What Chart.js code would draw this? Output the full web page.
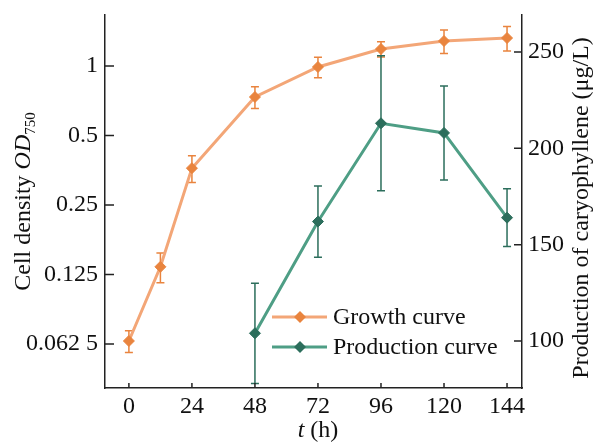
<!DOCTYPE html>
<html>
<head>
<meta charset="utf-8">
<script src="https://cdn.jsdelivr.net/npm/chart.js@4.4.1/dist/chart.umd.min.js"></script>
<style>
  body { margin: 0; background: #fff; }
  canvas { display: block; }
</style>
</head>
<body>
<canvas id="growthChart" width="602" height="442"></canvas>
<script>
// 読み取ったデータ
const times = [0, 12, 24, 48, 72, 96, 120, 144];
const growth = [0.0644, 0.135, 0.361, 0.734, 0.99, 1.185, 1.283, 1.322];
const growthErr = [0.007, 0.02, 0.048, 0.08, 0.10, 0.09, 0.15, 0.16];

const prodTimes = [48, 72, 96, 120, 144];
const production = [104, 162, 213, 208, 164];
const prodErr = [26, 18.5, 35, 24.4, 15];

const xTicks = [0, 24, 48, 72, 96, 120, 144];
const odTicks = [0.0625, 0.125, 0.25, 0.5, 1];
const odTickLabels = ['0.062 5', '0.125', '0.25', '0.5', '1'];
const prodTicks = [100, 150, 200, 250];

const SERIF = "'Liberation Serif', 'Times New Roman', serif";
const FS = 24;
const ORANGE_LINE = '#F3A677';
const ORANGE_MARK = '#E9843E';
const TEAL_LINE = '#4E9E85';
const TEAL_MARK = '#2C6E5C';
const AXIS = '#222';

// エラーバー
const errorBars = {
  id: 'errorBars',
  beforeDatasetsDraw(chart) {
    const ctx = chart.ctx;
    chart.data.datasets.forEach(ds => {
      const xs = chart.scales.x;
      const ys = chart.scales[ds.yAxisID];
      ctx.save();
      ctx.strokeStyle = ds.errColor;
      ctx.lineWidth = 1.5;
      ds.data.forEach((p, j) => {
        const e = ds.err[j];
        const px = xs.getPixelForValue(p.x);
        const top = ys.getPixelForValue(p.y + e);
        const bot = ys.getPixelForValue(p.y - e);
        ctx.beginPath();
        ctx.moveTo(px, top); ctx.lineTo(px, bot);
        ctx.moveTo(px - 4, top); ctx.lineTo(px + 4, top);
        ctx.moveTo(px - 4, bot); ctx.lineTo(px + 4, bot);
        ctx.stroke();
      });
      ctx.restore();
    });
  }
};

// 内向きの目盛り、軸タイトル、凡例
const decorations = {
  id: 'decorations',
  afterDraw(chart) {
    const ctx = chart.ctx;
    const a = chart.chartArea;
    const xs = chart.scales.x, yl = chart.scales.yOD, yr = chart.scales.yProd;
    ctx.save();
    ctx.strokeStyle = AXIS;
    ctx.lineWidth = 1.5;
    ctx.beginPath();
    odTicks.forEach(v => { const y = yl.getPixelForValue(v); ctx.moveTo(a.left, y); ctx.lineTo(a.left + 9, y); });
    prodTicks.forEach(v => { const y = yr.getPixelForValue(v); ctx.moveTo(a.right, y); ctx.lineTo(a.right - 8, y); });
    xTicks.forEach(v => { const x = xs.getPixelForValue(v); ctx.moveTo(x, a.bottom); ctx.lineTo(x, a.bottom - 5); });
    ctx.stroke();

    ctx.fillStyle = '#111';
    ctx.textBaseline = 'alphabetic';

    // 左軸タイトル
    ctx.save();
    ctx.translate(30, (a.top + a.bottom) / 2);
    ctx.rotate(-Math.PI / 2);
    const parts = [
      { t: 'Cell density ', f: FS + 'px ' + SERIF, dy: 0 },
      { t: 'OD', f: 'italic ' + FS + 'px ' + SERIF, dy: 0 },
      { t: '750', f: '15px ' + SERIF, dy: 5 }
    ];
    let total = 0;
    parts.forEach(p => { ctx.font = p.f; p.w = ctx.measureText(p.t).width; total += p.w; });
    let cx = -total / 2;
    parts.forEach(p => { ctx.font = p.f; ctx.fillText(p.t, cx, p.dy); cx += p.w; });
    ctx.restore();

    // 右軸タイトル
    ctx.save();
    ctx.translate(588, 208);
    ctx.rotate(-Math.PI / 2);
    ctx.font = FS + 'px ' + SERIF;
    ctx.textAlign = 'center';
    ctx.fillText('Production of caryophyllene (μg/L)', 0, 0);
    ctx.restore();

    // x軸タイトル
    ctx.font = 'italic ' + FS + 'px ' + SERIF;
    const tw = ctx.measureText('t').width;
    ctx.font = FS + 'px ' + SERIF;
    const hw = ctx.measureText(' (h)').width;
    const sx = 318 - (tw + hw) / 2;
    ctx.font = 'italic ' + FS + 'px ' + SERIF;
    ctx.fillText('t', sx, 437);
    ctx.font = FS + 'px ' + SERIF;
    ctx.fillText(' (h)', sx + tw, 437);

    // 凡例
    const items = [
      { label: 'Growth curve', line: ORANGE_LINE, mark: ORANGE_MARK, y: 317 },
      { label: 'Production curve', line: TEAL_LINE, mark: TEAL_MARK, y: 347 }
    ];
    items.forEach(it => {
      ctx.strokeStyle = it.line;
      ctx.lineWidth = 3;
      ctx.beginPath();
      ctx.moveTo(272, it.y); ctx.lineTo(327, it.y);
      ctx.stroke();
      ctx.fillStyle = it.mark;
      ctx.beginPath();
      ctx.moveTo(300, it.y - 6); ctx.lineTo(306, it.y); ctx.lineTo(300, it.y + 6); ctx.lineTo(294, it.y);
      ctx.closePath();
      ctx.fill();
      ctx.fillStyle = '#111';
      ctx.font = FS + 'px ' + SERIF;
      ctx.textBaseline = 'middle';
      ctx.fillText(it.label, 333, it.y + 1);
    });
    ctx.restore();
  }
};

function noPad(s) { s.paddingTop = 0; s.paddingBottom = 0; s.paddingLeft = 0; s.paddingRight = 0; }

function drawChart() {
  const ctx = document.getElementById('growthChart').getContext('2d');
  new Chart(ctx, {
    type: 'line',
    data: {
      datasets: [
        {
          label: 'Growth curve',
          data: times.map((t, i) => ({ x: t, y: growth[i] })),
          err: growthErr,
          errColor: ORANGE_MARK,
          yAxisID: 'yOD',
          borderColor: ORANGE_LINE,
          borderWidth: 3,
          pointStyle: 'rectRot',
          pointRadius: 5.5,
          pointBackgroundColor: ORANGE_MARK,
          pointBorderColor: ORANGE_MARK,
          pointBorderWidth: 1,
          tension: 0,
          fill: false
        },
        {
          label: 'Production curve',
          data: prodTimes.map((t, i) => ({ x: t, y: production[i] })),
          err: prodErr,
          errColor: TEAL_MARK,
          yAxisID: 'yProd',
          borderColor: TEAL_LINE,
          borderWidth: 3,
          pointStyle: 'rectRot',
          pointRadius: 5.5,
          pointBackgroundColor: TEAL_MARK,
          pointBorderColor: TEAL_MARK,
          pointBorderWidth: 1,
          tension: 0,
          fill: false
        }
      ]
    },
    options: {
      responsive: false,
      animation: false,
      layout: { padding: { top: 15, left: 0, right: 0, bottom: 0 } },
      plugins: { legend: { display: false }, tooltip: { enabled: false } },
      scales: {
        x: {
          type: 'linear',
          min: -9.1,
          max: 149.7,
          afterBuildTicks: s => { s.ticks = xTicks.map(v => ({ value: v })); },
          afterFit: s => { s.height = 54; noPad(s); },
          grid: { display: false, drawTicks: false },
          border: { display: true, color: AXIS, width: 1.5 },
          ticks: { color: '#111', font: { family: SERIF, size: FS }, padding: 4, maxRotation: 0 }
        },
        yOD: {
          type: 'logarithmic',
          position: 'left',
          min: 0.0403,
          max: 1.663,
          afterBuildTicks: s => { s.ticks = odTicks.map(v => ({ value: v })); },
          afterFit: s => { s.width = 105; noPad(s); },
          grid: { display: false, drawTicks: false },
          border: { display: true, color: AXIS, width: 1.5 },
          ticks: {
            color: '#111', font: { family: SERIF, size: FS }, padding: 7,
            callback: v => odTickLabels[odTicks.indexOf(v)] ?? ''
          }
        },
        yProd: {
          type: 'linear',
          position: 'right',
          min: 75.6,
          max: 269.2,
          afterBuildTicks: s => { s.ticks = prodTicks.map(v => ({ value: v })); },
          afterFit: s => { s.width = 80; noPad(s); },
          grid: { display: false, drawTicks: false },
          border: { display: true, color: AXIS, width: 1.5 },
          ticks: { color: '#111', font: { family: SERIF, size: FS }, padding: 6 }
        }
      }
    },
    plugins: [errorBars, decorations]
  });
}

drawChart();
</script>
</body>
</html>
